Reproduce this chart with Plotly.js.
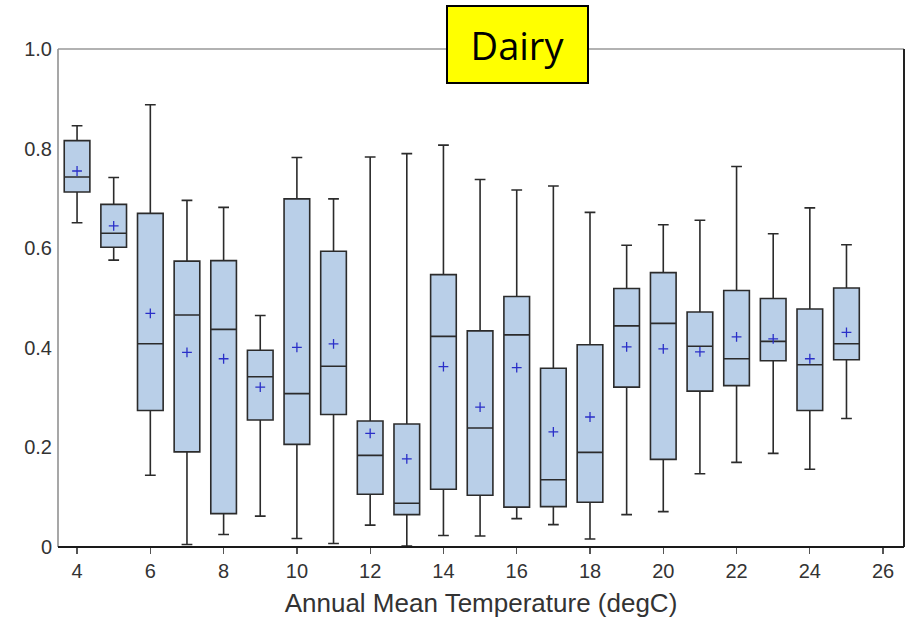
<!DOCTYPE html>
<html>
<head>
<meta charset="utf-8">
<script src="https://cdn.plot.ly/plotly-3.0.1.min.js"></script>
<style>
  html, body { margin: 0; padding: 0; background: #ffffff; }
  #chart { width: 911px; height: 624px; }
</style>
</head>
<body>
<div id="chart"></div>
<script>
// Annual mean temperature bins (degC)
const temps = [4, 5, 6, 7, 8, 9, 10, 11, 12, 13, 14, 15, 16, 17, 18, 19, 20, 21, 22, 23, 24, 25];

// Box statistics per temperature bin
const lowerWhisker = [0.651, 0.576, 0.144, 0.005, 0.025, 0.062, 0.017, 0.007, 0.044, 0.002, 0.023, 0.022,
                      0.057, 0.045, 0.016, 0.065, 0.071, 0.147, 0.170, 0.188, 0.156, 0.258];
const q1 = [0.713, 0.602, 0.274, 0.191, 0.067, 0.255, 0.206, 0.266, 0.106, 0.065, 0.116, 0.104,
            0.080, 0.081, 0.090, 0.321, 0.176, 0.313, 0.324, 0.374, 0.274, 0.376];
const median = [0.743, 0.630, 0.408, 0.466, 0.437, 0.342, 0.308, 0.363, 0.184, 0.088, 0.423, 0.239,
                0.426, 0.135, 0.190, 0.444, 0.449, 0.403, 0.378, 0.413, 0.366, 0.408];
const q3 = [0.816, 0.688, 0.670, 0.574, 0.575, 0.395, 0.699, 0.594, 0.253, 0.247, 0.547, 0.434,
            0.503, 0.359, 0.406, 0.519, 0.551, 0.472, 0.515, 0.499, 0.478, 0.520];
const upperWhisker = [0.846, 0.742, 0.888, 0.696, 0.682, 0.465, 0.782, 0.699, 0.783, 0.790, 0.807, 0.738,
                      0.717, 0.725, 0.672, 0.606, 0.647, 0.656, 0.764, 0.629, 0.681, 0.607];
const means = [0.755, 0.645, 0.469, 0.391, 0.378, 0.321, 0.401, 0.408, 0.228, 0.177, 0.362, 0.281,
               0.360, 0.231, 0.261, 0.402, 0.398, 0.392, 0.422, 0.418, 0.378, 0.431];

// Axis ticks
const xTicks = [4, 6, 8, 10, 12, 14, 16, 18, 20, 22, 24, 26];
const yTicks = [0, 0.2, 0.4, 0.6, 0.8, 1.0];
const yTickText = ['0', '0.2', '0.4', '0.6', '0.8', '1.0'];

const boxTrace = {
  type: 'box',
  x: temps,
  q1: q1,
  median: median,
  q3: q3,
  lowerfence: lowerWhisker,
  upperfence: upperWhisker,
  width: 0.7,
  whiskerwidth: 0.42,
  fillcolor: '#b9cfe8',
  line: { color: '#2b2b2b', width: 1.6 },
  boxpoints: false,
  hoverinfo: 'skip',
  showlegend: false
};

const meanTrace = {
  type: 'scatter',
  mode: 'markers',
  x: temps,
  y: means,
  marker: {
    symbol: 'cross-thin',
    size: 7,
    color: '#2a2fc8',
    line: { color: '#2a2fc8', width: 1.3 }
  },
  hoverinfo: 'skip',
  showlegend: false
};

const tickFont = { family: 'Liberation Sans, Arial, sans-serif', size: 20, color: '#333333' };

const layout = {
  width: 911,
  height: 624,
  margin: { l: 58, r: 7, t: 49, b: 77 },
  paper_bgcolor: '#ffffff',
  plot_bgcolor: '#ffffff',
  showlegend: false,
  xaxis: {
    range: [3.48, 26.57],
    tickvals: xTicks,
    ticks: 'outside',
    ticklen: 6,
    tickwidth: 1.3,
    tickcolor: '#555555',
    showgrid: false,
    zeroline: false,
    showline: false,
    tickfont: tickFont,
    title: {
      text: 'Annual Mean Temperature (degC)',
      font: { family: 'Liberation Sans, Arial, sans-serif', size: 26, color: '#333333' },
      standoff: 12
    }
  },
  yaxis: {
    range: [0, 1],
    tickvals: yTicks,
    ticktext: yTickText,
    ticks: '',
    ticklabelstandoff: 5,
    showgrid: false,
    zeroline: false,
    showline: false,
    tickfont: tickFont
  },
  shapes: [
    // frame: light top/left, dark bottom/right
    { type: 'line', xref: 'paper', yref: 'paper', x0: 0, x1: 1, y0: 1, y1: 1, line: { color: '#999999', width: 1.5 } },
    { type: 'line', xref: 'paper', yref: 'paper', x0: 0, x1: 0, y0: 0, y1: 1, line: { color: '#8a8a8a', width: 1.5 } },
    { type: 'line', xref: 'paper', yref: 'paper', x0: 1, x1: 1, y0: 0, y1: 1, line: { color: '#222222', width: 2 } },
    { type: 'line', xref: 'paper', yref: 'paper', x0: 0, x1: 1, y0: 0, y1: 0, line: { color: '#1a1a1a', width: 2.2 } }
  ],
  annotations: [
    {
      text: 'Dairy',
      xref: 'paper', yref: 'paper',
      x: 0.543, y: 1.009,
      xanchor: 'center', yanchor: 'middle',
      showarrow: false,
      font: { family: 'Open Sans, Lato, sans-serif', size: 38, color: '#000000' },
      bgcolor: '#ffff00',
      bordercolor: '#000000',
      borderwidth: 2,
      borderpad: 0,
      width: 139,
      height: 75
    }
  ]
};

Plotly.newPlot('chart', [boxTrace, meanTrace], layout, { displayModeBar: false, staticPlot: true });
</script>
</body>
</html>
